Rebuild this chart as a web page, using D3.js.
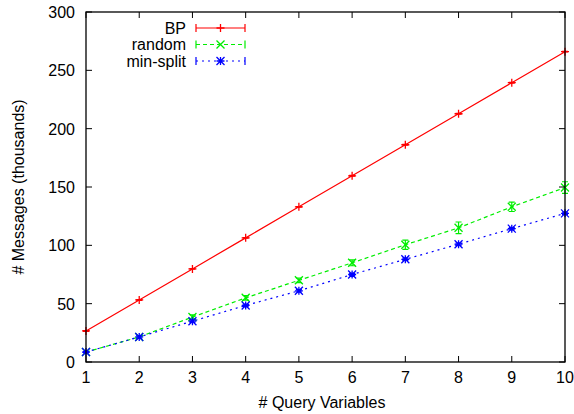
<!DOCTYPE html>
<html lang="en">
<head>
<meta charset="UTF-8">
<title>Messages vs query variables</title>
<script src="https://cdn.jsdelivr.net/npm/d3@7"></script>
<style>
  body { margin: 0; background: #fff; }
  text { font-family: "Liberation Sans", Arial, sans-serif; font-size: 16px; fill: #000; }
</style>
</head>
<body>
<svg width="574" height="414"></svg>
<script>
// data
var queryVars = [1, 2, 3, 4, 5, 6, 7, 8, 9, 10];
var bpMsgs = [26.6, 53.2, 79.8, 106.4, 133, 159.6, 186.2, 212.8, 239.4, 266];
var bpErr = [0.3, 0.3, 0.3, 0.3, 0.3, 0.3, 0.3, 0.3, 0.3, 0.3];
var randomMsgs = [8.5, 21.5, 38.5, 55, 70, 85, 100.5, 115, 133, 149.5];
var randomErr = [0.5, 1, 2, 2, 2, 2.5, 4, 5, 4, 5];
var minSplitMsgs = [8.5, 21.5, 35, 48.5, 61, 75, 88, 101, 114.3, 127.4];
var minSplitErr = [0.5, 1, 1, 1, 1, 1, 1, 1, 1, 1];
var yTicks = [0, 50, 100, 150, 200, 250, 300];

var series = [
  {name: "BP", vals: bpMsgs, err: bpErr, color: "#ff0000", dash: null, sym: "plus"},
  {name: "random", vals: randomMsgs, err: randomErr, color: "#00ee00", dash: "4,3", sym: "cross"},
  {name: "min-split", vals: minSplitMsgs, err: minSplitErr, color: "#0000ff", dash: "2,4", sym: "star"}
];

var plotL = 86, plotR = 565, plotT = 12, plotB = 362;
var x = d3.scaleLinear().domain([1, 10]).range([plotL, plotR]);
var y = d3.scaleLinear().domain([0, 300]).range([plotB, plotT]);

var svg = d3.select("svg");

// symbols like gnuplot's point types
function symbolPath(type, s) {
  var p = "M" + (-s) + ",0H" + s + "M0," + (-s) + "V" + s;
  var c = "M" + (-s) + "," + (-s) + "L" + s + "," + s + "M" + (-s) + "," + s + "L" + s + "," + (-s);
  if (type == "plus") return p;
  if (type == "cross") return c;
  return p + c;
}

// series
series.forEach(function(s) {
  var g = svg.append("g");
  var pts = queryVars.map(function(q, i) { return {q: q, v: s.vals[i], e: s.err[i]}; });

  g.append("path")
    .datum(pts)
    .attr("fill", "none")
    .attr("stroke", s.color)
    .attr("stroke-width", 1.2)
    .attr("stroke-dasharray", s.dash)
    .attr("d", d3.line().x(function(d) { return x(d.q); }).y(function(d) { return y(d.v); }));

  // error bars
  g.selectAll(".eb").data(pts).join("path")
    .attr("stroke", s.color)
    .attr("fill", "none")
    .attr("stroke-width", 1.2)
    .attr("d", function(d) {
      var cx = x(d.q), y0 = y(d.v - d.e), y1 = y(d.v + d.e);
      return "M" + cx + "," + y0 + "V" + y1 +
        "M" + (cx - 3) + "," + y0 + "H" + (cx + 3) +
        "M" + (cx - 3) + "," + y1 + "H" + (cx + 3);
    });

  g.selectAll(".pt").data(pts).join("path")
    .attr("stroke", s.color)
    .attr("fill", "none")
    .attr("stroke-width", 1.3)
    .attr("transform", function(d) { return "translate(" + x(d.q) + "," + y(d.v) + ")"; })
    .attr("d", symbolPath(s.sym, 4));
});

// frame
svg.append("rect")
  .attr("x", plotL).attr("y", plotT)
  .attr("width", plotR - plotL).attr("height", plotB - plotT)
  .attr("fill", "none").attr("stroke", "#000").attr("stroke-width", 1.3);

// x ticks, mirrored on top
svg.selectAll(".xt").data(queryVars).join("path")
  .attr("stroke", "#000")
  .attr("d", function(d) {
    var px = x(d);
    return "M" + px + "," + plotB + "v-6M" + px + "," + plotT + "v6";
  });
svg.selectAll(".xl").data(queryVars).join("text")
  .attr("x", function(d) { return x(d); })
  .attr("y", 383)
  .attr("text-anchor", "middle")
  .text(function(d) { return d; });

// y ticks, mirrored on right
svg.selectAll(".yt").data(yTicks).join("path")
  .attr("stroke", "#000")
  .attr("d", function(d) {
    var py = y(d);
    return "M" + plotL + "," + py + "h6M" + plotR + "," + py + "h-6";
  });
svg.selectAll(".yl").data(yTicks).join("text")
  .attr("x", 75)
  .attr("y", function(d) { return y(d) + 6; })
  .attr("text-anchor", "end")
  .text(function(d) { return d; });

// axis titles
svg.append("text")
  .attr("x", 322)
  .attr("y", 408)
  .attr("text-anchor", "middle")
  .text("# Query Variables");
svg.append("text")
  .attr("transform", "translate(24," + ((plotT + plotB) / 2) + ") rotate(-90)")
  .attr("text-anchor", "middle")
  .text("# Messages (thousands)");

// legend
var leg = svg.selectAll(".leg").data(series).join("g")
  .attr("transform", function(d, i) { return "translate(0," + (28 + i * 16.5) + ")"; });
leg.append("text")
  .attr("x", 186).attr("y", 5.5)
  .attr("text-anchor", "end")
  .text(function(d) { return d.name; });
leg.append("path")
  .attr("stroke", function(d) { return d.color; })
  .attr("stroke-width", 1.2)
  .attr("stroke-dasharray", function(d) { return d.dash; })
  .attr("d", "M196,0H245");
leg.append("path")
  .attr("stroke", function(d) { return d.color; })
  .attr("stroke-width", 1.2)
  .attr("d", "M196,-4V4M245,-4V4");
leg.append("path")
  .attr("stroke", function(d) { return d.color; })
  .attr("fill", "none")
  .attr("stroke-width", 1.3)
  .attr("transform", "translate(220.5,0)")
  .attr("d", function(d) { return symbolPath(d.sym, 4); });
</script>
</body>
</html>
